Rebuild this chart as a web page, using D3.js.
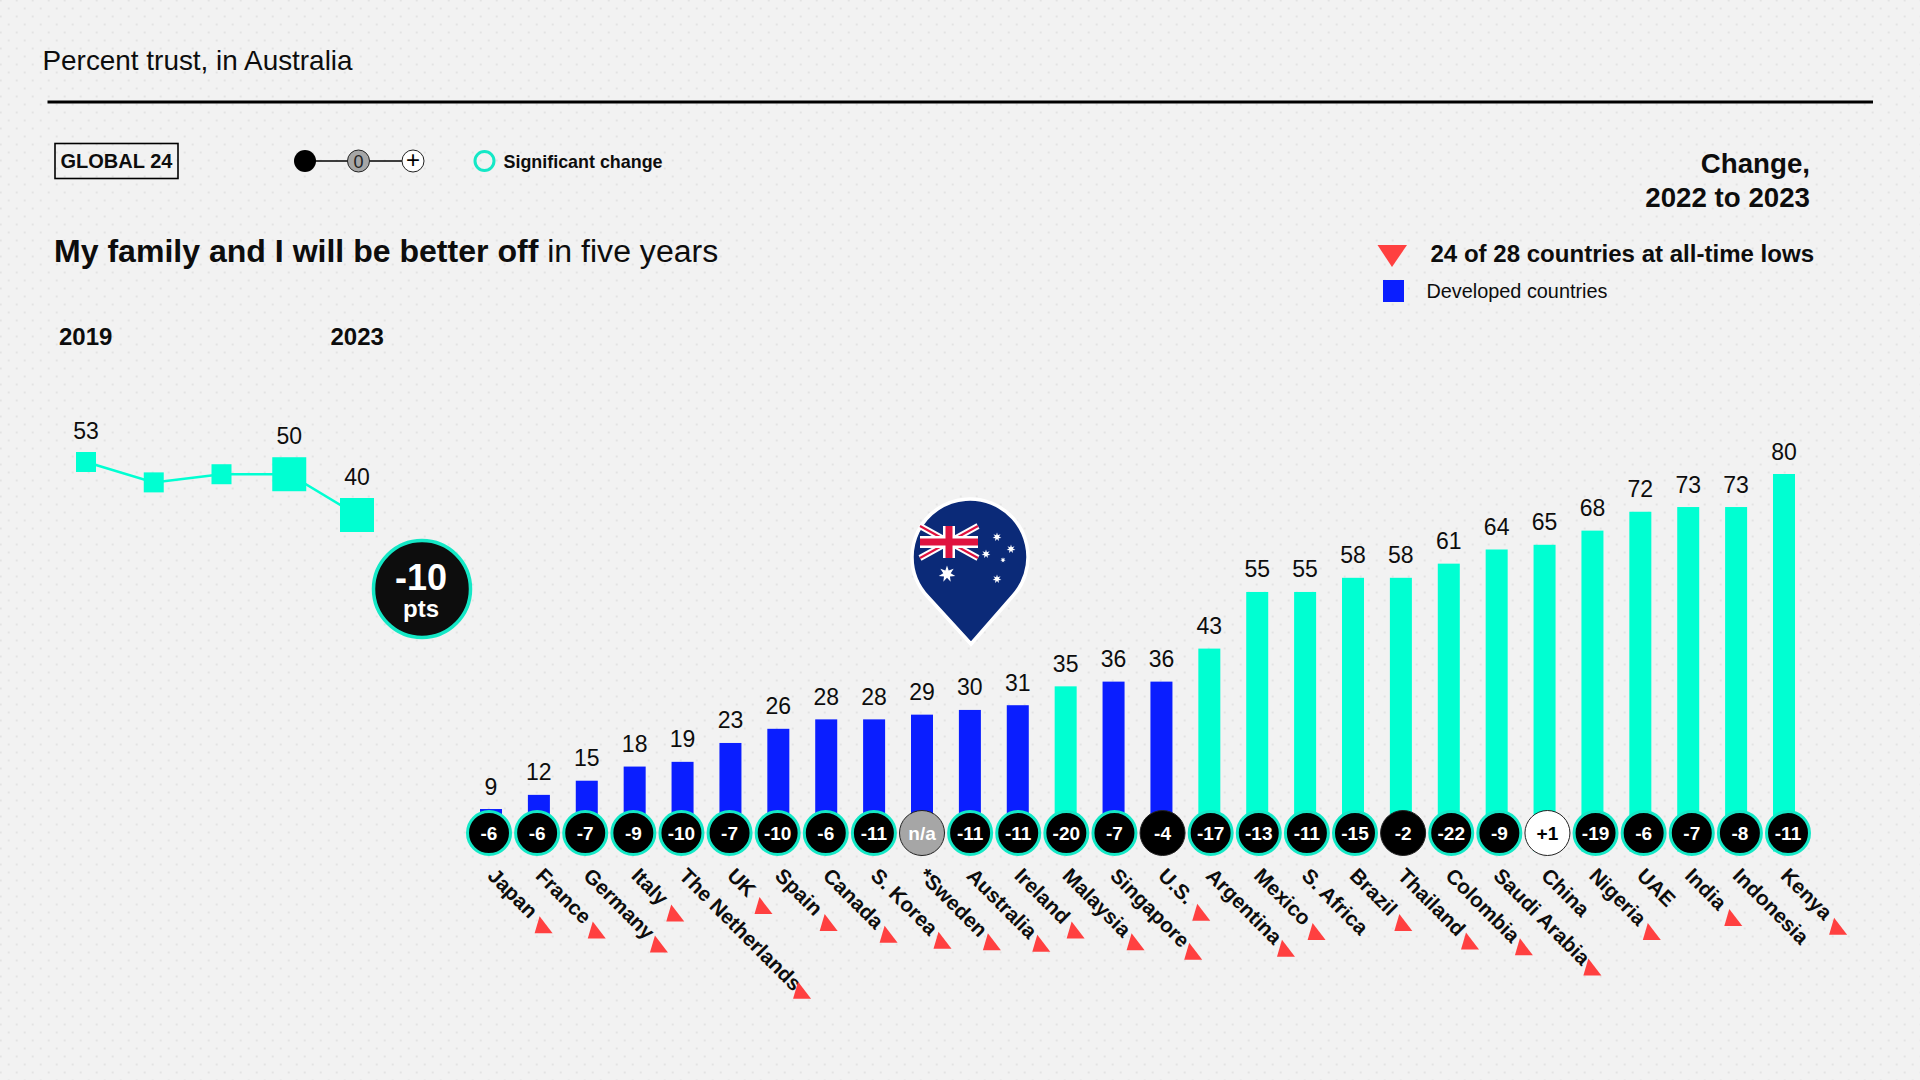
<!DOCTYPE html>
<html>
<head>
<meta charset="utf-8">
<script src="https://cdn.jsdelivr.net/npm/d3@7"></script>
<style>
  html, body { margin: 0; padding: 0; background: #f2f2f2; }
  svg { display: block; font-family: "Liberation Sans", Arial, sans-serif; }
</style>
</head>
<body>
<div id="chart"></div>
<script>
const width = 1920;
const height = 1080;

// bars, in reference order
const countries = ["Japan", "France", "Germany", "Italy", "The Netherlands", "UK", "Spain", "Canada", "S. Korea", "*Sweden", "Australia", "Ireland", "Malaysia", "Singapore", "U.S.", "Argentina", "Mexico", "S. Africa", "Brazil", "Thailand", "Colombia", "Saudi Arabia", "China", "Nigeria", "UAE", "India", "Indonesia", "Kenya"];
const trustValues = [9, 12, 15, 18, 19, 23, 26, 28, 28, 29, 30, 31, 35, 36, 36, 43, 55, 55, 58, 58, 61, 64, 65, 68, 72, 73, 73, 80];
const changeLabels = ["-6", "-6", "-7", "-9", "-10", "-7", "-10", "-6", "-11", "n/a", "-11", "-11", "-20", "-7", "-4", "-17", "-13", "-11", "-15", "-2", "-22", "-9", "+1", "-19", "-6", "-7", "-8", "-11"];
const developed = ["Japan", "France", "Germany", "Italy", "The Netherlands", "UK", "Spain", "Canada", "S. Korea", "*Sweden", "Australia", "Ireland", "Singapore", "U.S."];
const notSignificant = ["n/a", "-4", "-2", "+1"];
const noLowFlag = ["S. Africa", "China", "UAE", "Indonesia"];

// Australia trend; the two middle years have no printed label in the picture
const trendYears = [2019, 2020, 2021, 2022, 2023];
const trendValues = [53, 48, 50, 50, 40];
const trendLabelled = [2019, 2022, 2023];
const trendLarge = [2022, 2023];

const TEAL = "#00ffd2";
const RING = "#14e8c6";
const BLUE = "#0a1eff";
const RED = "#ff4040";
const INK = "#0d0d0d";

const svg = d3.select("#chart").append("svg")
    .attr("width", width)
    .attr("height", height)
    .attr("viewBox", `0 0 ${width} ${height}`);

// dotted paper background
const pattern = svg.append("defs").append("pattern")
    .attr("id", "dots")
    .attr("patternUnits", "userSpaceOnUse")
    .attr("patternTransform", "translate(-3.3,-3.5)")
    .attr("width", 16)
    .attr("height", 16);
pattern.append("rect").attr("width", 16).attr("height", 16).attr("fill", "#f2f2f2");
pattern.append("circle").attr("cx", 4).attr("cy", 4).attr("r", 1).attr("fill", "#dedede");
pattern.append("circle").attr("cx", 12).attr("cy", 12).attr("r", 1).attr("fill", "#dedede");
svg.append("rect").attr("width", width).attr("height", height).attr("fill", "url(#dots)");

function label(parent, x, y, str, size, weight, anchor, fill) {
    return parent.append("text")
        .attr("x", x).attr("y", y)
        .attr("font-size", size)
        .attr("font-weight", weight || "normal")
        .attr("text-anchor", anchor || "start")
        .attr("fill", fill || INK)
        .text(str);
}

// 1. Header
label(svg, 42.5, 69.5, "Percent trust, in Australia", 27.9);
svg.append("line").attr("x1", 47.5).attr("x2", 1873).attr("y1", 102).attr("y2", 102)
    .attr("stroke", "#000").attr("stroke-width", 3);

svg.append("rect").attr("x", 55).attr("y", 143.5).attr("width", 123).attr("height", 35)
    .attr("fill", "none").attr("stroke", "#000").attr("stroke-width", 1.6);
label(svg, 60.5, 168, "GLOBAL 24", 20, "bold");

// 2. Change scale legend
const legend = svg.append("g");
legend.append("line").attr("x1", 305).attr("x2", 413).attr("y1", 161).attr("y2", 161)
    .attr("stroke", "#000").attr("stroke-width", 1.3);
legend.append("circle").attr("cx", 305).attr("cy", 161).attr("r", 11).attr("fill", "#000");
legend.append("circle").attr("cx", 358.5).attr("cy", 161).attr("r", 11)
    .attr("fill", "#a6a6a6").attr("stroke", "#222").attr("stroke-width", 1);
label(legend, 358.5, 167.5, "0", 18, "normal", "middle", "#222");
legend.append("circle").attr("cx", 413).attr("cy", 161).attr("r", 11)
    .attr("fill", "#fff").attr("stroke", "#222").attr("stroke-width", 1);
label(legend, 413, 168, "+", 24, "normal", "middle", "#000");
legend.append("circle").attr("cx", 484.5).attr("cy", 161).attr("r", 9.5)
    .attr("fill", "none").attr("stroke", RING).attr("stroke-width", 3);
label(legend, 503.5, 168, "Significant change", 17.9, "bold");

// 3. Titles
const title = label(svg, 54, 261.5, "", 32.05);
title.append("tspan").attr("font-weight", "bold").text("My family and I will be better off");
title.append("tspan").text(" in five years");

label(svg, 1810, 173, "Change,", 27.7, "bold", "end");
label(svg, 1810, 207, "2022 to 2023", 27.7, "bold", "end");

svg.append("path").attr("d", "M1377.5,245L1407,245L1392,267Z").attr("fill", RED);
label(svg, 1430.5, 261.5, "24 of 28 countries at all-time lows", 24.05, "bold");
svg.append("rect").attr("x", 1383).attr("y", 280).attr("width", 21).attr("height", 22).attr("fill", BLUE);
label(svg, 1426.5, 298, "Developed countries", 19.85);

// 4. Trend line, top left
label(svg, 59, 345, "2019", 24, "bold");
label(svg, 330.5, 345, "2023", 24, "bold");

const trendX = d3.scalePoint().domain(trendYears).range([86, 357]);
const trendY = d3.scaleLinear().domain([40, 53]).range([515, 462]);
const trend = trendYears.map((year, i) => ({ year, value: trendValues[i] }));
const squareSize = d => trendLarge.includes(d.year) ? 34 : 20;

svg.append("path")
    .datum(trend)
    .attr("fill", "none")
    .attr("stroke", TEAL)
    .attr("stroke-width", 2.5)
    .attr("d", d3.line().x(d => trendX(d.year)).y(d => trendY(d.value)));

svg.selectAll(".trend-point").data(trend).join("rect")
    .attr("class", "trend-point")
    .attr("x", d => trendX(d.year) - squareSize(d) / 2)
    .attr("y", d => trendY(d.value) - squareSize(d) / 2)
    .attr("width", squareSize)
    .attr("height", squareSize)
    .attr("fill", TEAL);

svg.selectAll(".trend-label").data(trend.filter(d => trendLabelled.includes(d.year))).join("text")
    .attr("class", "trend-label")
    .attr("x", d => trendX(d.year))
    .attr("y", d => trendY(d.value) - squareSize(d) / 2 - 13.5)
    .attr("text-anchor", "middle")
    .attr("font-size", 23)
    .attr("fill", INK)
    .text(d => d.value);

svg.append("circle").attr("cx", 422).attr("cy", 589).attr("r", 48.5)
    .attr("fill", INK).attr("stroke", RING).attr("stroke-width", 3.5);
label(svg, 421, 590, "-10", 36, "bold", "middle", "#fff");
label(svg, 421, 617, "pts", 24, "bold", "middle", "#fff");

// 5. Bars
const barX = d3.scalePoint().domain(countries).range([491, 1784]);
const badgeX = d3.scalePoint().domain(countries).range([489, 1788]);
const barY = d3.scaleLinear().domain([0, 80]).range([851.5, 474]);
const rows = countries.map((name, i) => ({ name, value: trustValues[i], change: changeLabels[i] }));
const barWidth = 22;

svg.selectAll(".bar").data(rows).join("rect")
    .attr("class", "bar")
    .attr("x", d => barX(d.name) - barWidth / 2)
    .attr("y", d => barY(d.value))
    .attr("width", barWidth)
    .attr("height", d => barY(0) - barY(d.value))
    .attr("fill", d => developed.includes(d.name) ? BLUE : TEAL);

svg.selectAll(".bar-value").data(rows).join("text")
    .attr("class", "bar-value")
    .attr("x", d => barX(d.name))
    .attr("y", d => barY(d.value) - 14.5)
    .attr("text-anchor", "middle")
    .attr("font-size", 23)
    .attr("fill", INK)
    .text(d => d.value);

// 6. Change badges
const badge = svg.selectAll(".badge").data(rows).join("g")
    .attr("class", "badge")
    .attr("transform", d => `translate(${badgeX(d.name)},833)`);

badge.append("circle")
    .attr("r", d => notSignificant.includes(d.change) ? 22.5 : 21.5)
    .attr("fill", d => d.change === "n/a" ? "#a6a6a6" : d.change === "+1" ? "#fff" : "#000")
    .attr("stroke", d => notSignificant.includes(d.change) ? "#222" : RING)
    .attr("stroke-width", d => notSignificant.includes(d.change) ? 1 : 3);

badge.append("text")
    .attr("y", 6.5)
    .attr("text-anchor", "middle")
    .attr("font-size", 19)
    .attr("font-weight", "bold")
    .attr("fill", d => d.change === "+1" ? "#000" : "#fff")
    .text(d => d.change);

// 7. Slanted country names, red flag right after the text
const nameX = d => barX(d.name) - 4.5;
const nameY = 877;
const nameLabel = svg.selectAll(".country").data(rows).join("text")
    .attr("class", "country")
    .attr("transform", d => `translate(${nameX(d)},${nameY}) rotate(45)`)
    .attr("font-size", 20.8)
    .attr("font-weight", "bold")
    .attr("fill", INK)
    .text(d => d.name);

nameLabel.each(function (d) {
    if (noLowFlag.includes(d.name)) return;
    const diag = this.getComputedTextLength() * Math.SQRT1_2;
    const ax = nameX(d) + diag * 0.92 + 14;
    const ay = nameY + diag * 0.9 + 1;
    svg.append("path")
        .attr("class", "low-flag")
        .attr("d", `M${ax},${ay}L${ax + 13},${ay + 17}L${ax - 5},${ay + 17}Z`)
        .attr("fill", RED);
});

// 8. Australian flag pin
const pin = svg.append("g").attr("transform", "translate(970,557)");
const pinPath = "M-58,0A58,58 0 1,1 42,40L1,87L-42,40A58,58 0 0,1 -58,0Z";
pin.append("path").attr("d", pinPath).attr("fill", "#0b2a78").attr("stroke", "#fff").attr("stroke-width", 3.5);

const jack = pin.append("g").attr("transform", "translate(-50,-31)");
const jw = 58, jh = 32;
jack.append("line").attr("x1", 0).attr("y1", 0).attr("x2", jw).attr("y2", jh).attr("stroke", "#fff").attr("stroke-width", 6);
jack.append("line").attr("x1", 0).attr("y1", jh).attr("x2", jw).attr("y2", 0).attr("stroke", "#fff").attr("stroke-width", 6);
jack.append("line").attr("x1", 0).attr("y1", 0).attr("x2", jw).attr("y2", jh).attr("stroke", "#e0123f").attr("stroke-width", 2);
jack.append("line").attr("x1", 0).attr("y1", jh).attr("x2", jw).attr("y2", 0).attr("stroke", "#e0123f").attr("stroke-width", 2);
jack.append("rect").attr("x", 0).attr("y", jh / 2 - 6).attr("width", jw).attr("height", 12).attr("fill", "#fff");
jack.append("rect").attr("x", jw / 2 - 6).attr("y", 0).attr("width", 12).attr("height", jh).attr("fill", "#fff");
jack.append("rect").attr("x", 0).attr("y", jh / 2 - 3.5).attr("width", jw).attr("height", 7).attr("fill", "#e0123f");
jack.append("rect").attr("x", jw / 2 - 3.5).attr("y", 0).attr("width", 7).attr("height", jh).attr("fill", "#e0123f");

function starPath(r) {
    const pts = d3.range(14).map(i => {
        const a = i * Math.PI / 7;
        const rr = i % 2 ? r * 0.45 : r;
        return [rr * Math.sin(a), -rr * Math.cos(a)];
    });
    return "M" + pts.join("L") + "Z";
}
[[-23, 17, 8.5], [27, -20, 4.5], [41, -8, 4.5], [16, -3, 4.5], [33, 3, 2.8], [27, 22, 4.5]].forEach(s => {
    pin.append("path").attr("transform", `translate(${s[0]},${s[1]})`).attr("d", starPath(s[2])).attr("fill", "#fff");
});
</script>
</body>
</html>
